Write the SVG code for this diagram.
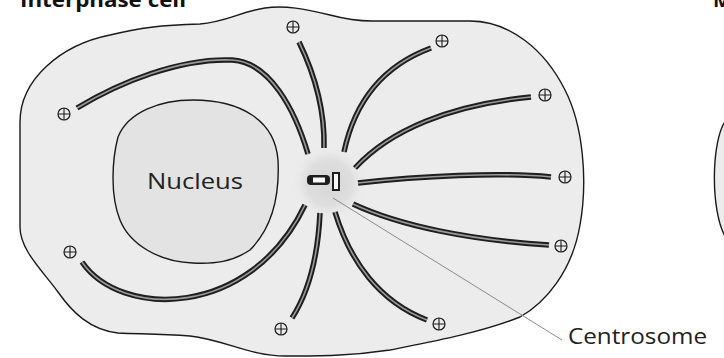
<svg xmlns="http://www.w3.org/2000/svg" width="724" height="358" viewBox="0 0 724 358">
  <style>
    .outline { fill: #ececec; stroke: #1a1a1a; stroke-width: 1.4; }
    .nuc { fill: #e3e3e3; stroke: #1a1a1a; stroke-width: 1.4; }
    .mt-o { fill: none; stroke: #1e1e1e; stroke-width: 5.5; stroke-linecap: butt; }
    .mt-i { fill: none; stroke: #9a9a9a; stroke-width: 1.6; stroke-linecap: butt; }
    .pe-ring { fill: #ececec; stroke: #1a1a1a; stroke-width: 1.2; }
    .pe-cross { stroke: #1a1a1a; stroke-width: 1.1; fill: none; }
    .title { font-family: "Open Sans", "Liberation Sans", sans-serif; font-weight: bold; font-size: 20px; fill: #111; }
    .label { font-family: "Open Sans", "Liberation Sans", sans-serif; font-size: 22px; fill: #222; }
    .leader { stroke: #8a8a8a; stroke-width: 1; fill: none; }
  </style>
  <defs>
    <radialGradient id="halo" cx="0.5" cy="0.5" r="0.5">
      <stop offset="0" stop-color="#d6d6d6"/>
      <stop offset="0.6" stop-color="#dedede"/>
      <stop offset="1" stop-color="#ececec" stop-opacity="0"/>
    </radialGradient>
    <!-- plus-end marker: ring with a cross -->
    <g id="plusend">
      <circle class="pe-ring" r="6"/>
      <path class="pe-cross" d="M -6 0 H 6 M 0 -6 V 6"/>
    </g>
    <!-- microtubule tracks, each drawn as a dark tube with a pale core -->
    <path id="mt1" d="M 77,108 C 120,82 180,58 232,60 C 270,62 295,110 308,154"/>
    <path id="mt2" d="M 82,262 C 120,318 250,320 305,205"/>
    <path id="mt3" d="M 299,42 C 315,75 325,110 324,148"/>
    <path id="mt4" d="M 431,48 C 385,65 355,100 344,152"/>
    <path id="mt5" d="M 355,168 C 390,130 450,105 531,97"/>
    <path id="mt6" d="M 358,183 C 420,176 500,172 551,177"/>
    <path id="mt7" d="M 353,204 C 400,226 470,240 549,245"/>
    <path id="mt8" d="M 335,212 C 350,262 380,302 427,320"/>
    <path id="mt9" d="M 320,213 C 318,255 310,290 292,318"/>
  </defs>

  <!-- titles -->
  <text class="title" x="20" y="7" textLength="166" lengthAdjust="spacingAndGlyphs">Interphase cell</text>
  <text class="title" x="713" y="7">Mitotic cell</text>

  <!-- neighbouring cell edge -->
  <g id="mitotic-cell">
    <path class="outline" d="M 726,120 C 711,140 710,212 726,238"/>
  </g>

  <g id="cell">
    <path class="outline" d="M 20,122 C 20,80 60,45 110,35 C 140,28 160,25 200,24 C 225,22 240,12 265,8 C 285,5 305,9 330,15 C 345,19 355,21 372,21 L 470,21 C 510,21 545,50 565,90 C 583,125 588,180 580,225 C 572,272 545,303 520,317 C 480,333 430,342 390,350 C 350,356 320,356 285,356 C 250,356 225,340 190,336 C 160,334 140,334 118,333 C 90,330 72,312 58,292 C 42,270 20,250 20,227 Z"/>
  </g>

  <g id="nucleus">
    <path class="nuc" d="M 193,100 C 240,100 275,120 278,160 C 280,200 270,230 250,250 C 232,262 215,264 193,263 C 160,262 130,245 120,220 C 110,195 112,160 118,137 C 128,112 160,100 193,100 Z"/>
    <text class="label" x="147" y="189" textLength="96" lengthAdjust="spacingAndGlyphs" font-size="24">Nucleus</text>
  </g>

  <g id="centrosome">
    <circle cx="329" cy="183" r="38" fill="url(#halo)"/>
    <rect x="307" y="175" width="23" height="10" rx="4" fill="#1e1e1e"/>
    <rect x="313" y="177.5" width="12" height="5" fill="#f7f7f7"/>
    <rect x="332" y="172" width="8" height="19" fill="#1e1e1e"/>
    <rect x="334" y="174" width="4" height="15" fill="#f7f7f7"/>
  </g>

  <g id="microtubules">
    <use href="#mt1" class="mt-o"/><use href="#mt1" class="mt-i"/>
    <use href="#mt2" class="mt-o"/><use href="#mt2" class="mt-i"/>
    <use href="#mt3" class="mt-o"/><use href="#mt3" class="mt-i"/>
    <use href="#mt4" class="mt-o"/><use href="#mt4" class="mt-i"/>
    <use href="#mt5" class="mt-o"/><use href="#mt5" class="mt-i"/>
    <use href="#mt6" class="mt-o"/><use href="#mt6" class="mt-i"/>
    <use href="#mt7" class="mt-o"/><use href="#mt7" class="mt-i"/>
    <use href="#mt8" class="mt-o"/><use href="#mt8" class="mt-i"/>
    <use href="#mt9" class="mt-o"/><use href="#mt9" class="mt-i"/>
  </g>

  <g id="plus-ends">
    <use href="#plusend" x="64" y="114"/>
    <use href="#plusend" x="70" y="252"/>
    <use href="#plusend" x="293" y="27"/>
    <use href="#plusend" x="442" y="41"/>
    <use href="#plusend" x="545" y="95"/>
    <use href="#plusend" x="565" y="177"/>
    <use href="#plusend" x="561" y="246"/>
    <use href="#plusend" x="439" y="324"/>
    <use href="#plusend" x="281" y="329"/>
  </g>

  <g id="connectors">
    <path class="leader" d="M 333,198 L 562,340"/>
  </g>
  <g id="centrosome-label">
    <text class="label" x="568" y="344" textLength="139" lengthAdjust="spacingAndGlyphs">Centrosome</text>
  </g>
</svg>
